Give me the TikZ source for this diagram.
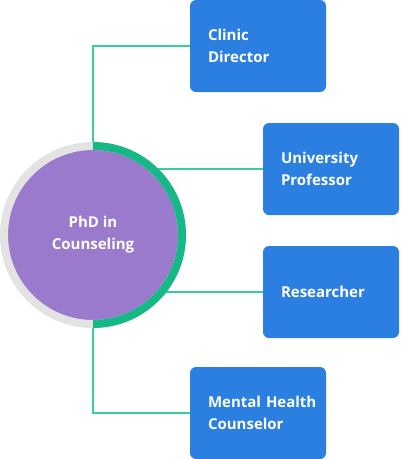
\documentclass[tikz,border=0pt]{standalone}
\usepackage{fontspec}
\setmainfont{Open Sans}
\usepackage{tikz}
\usetikzlibrary{backgrounds}
\definecolor{jobblue}{HTML}{2A7FE0}
\definecolor{phdpurple}{HTML}{997ACC}
\definecolor{ringgreen}{HTML}{16B887}
\definecolor{ringgray}{HTML}{E3E3E3}
\definecolor{linkgreen}{HTML}{3CCB9C}

\begin{document}
\begin{tikzpicture}[x=1pt, y=-1pt,
		every node/.style={font=\bfseries\fontsize{15}{22}\selectfont, text=white},
		job/.style={fill=jobblue, rounded corners=6pt, minimum width=136pt, minimum height=92pt, text width=100pt, inner xsep=18pt, align=left},
		link/.style={draw=linkgreen, line width=1.3pt}]
			\useasboundingbox (0,0) rectangle (400,459);
			\node[circle, fill=phdpurple, minimum size=172pt, inner sep=0pt, align=center] at (93,235) (phd){PhD in\\Counseling};
			\node[circle, minimum size=186pt, inner sep=0pt] at (93,235) (ring){};
			\draw[ringgray, line width=8pt] (phd.center) circle[radius=89];
			\draw[ringgreen, line width=8pt] (phd.center) ++(0,-89) arc[start angle=-90, end angle=90, radius=89];
			\node[job] at (258,46) (clinic){Clinic\\Director};
			\node[job] at (331,169) (prof){University\\Professor};
			\node[job] at (331,292) (res){Researcher};
			\node[job] at (258,413) (mhc){Mental~Health\\Counselor};
			\begin{pgfonlayer}{background}
			\draw[link] (ring.north) |- (clinic.west);
			\draw[link] (ring.center |- prof.west) -- (prof.west);
			\draw[link] (ring.center |- res.west) -- (res.west);
			\draw[link] (ring.south) |- (mhc.west);
			\end{pgfonlayer}
		\end{tikzpicture}
\end{document}
